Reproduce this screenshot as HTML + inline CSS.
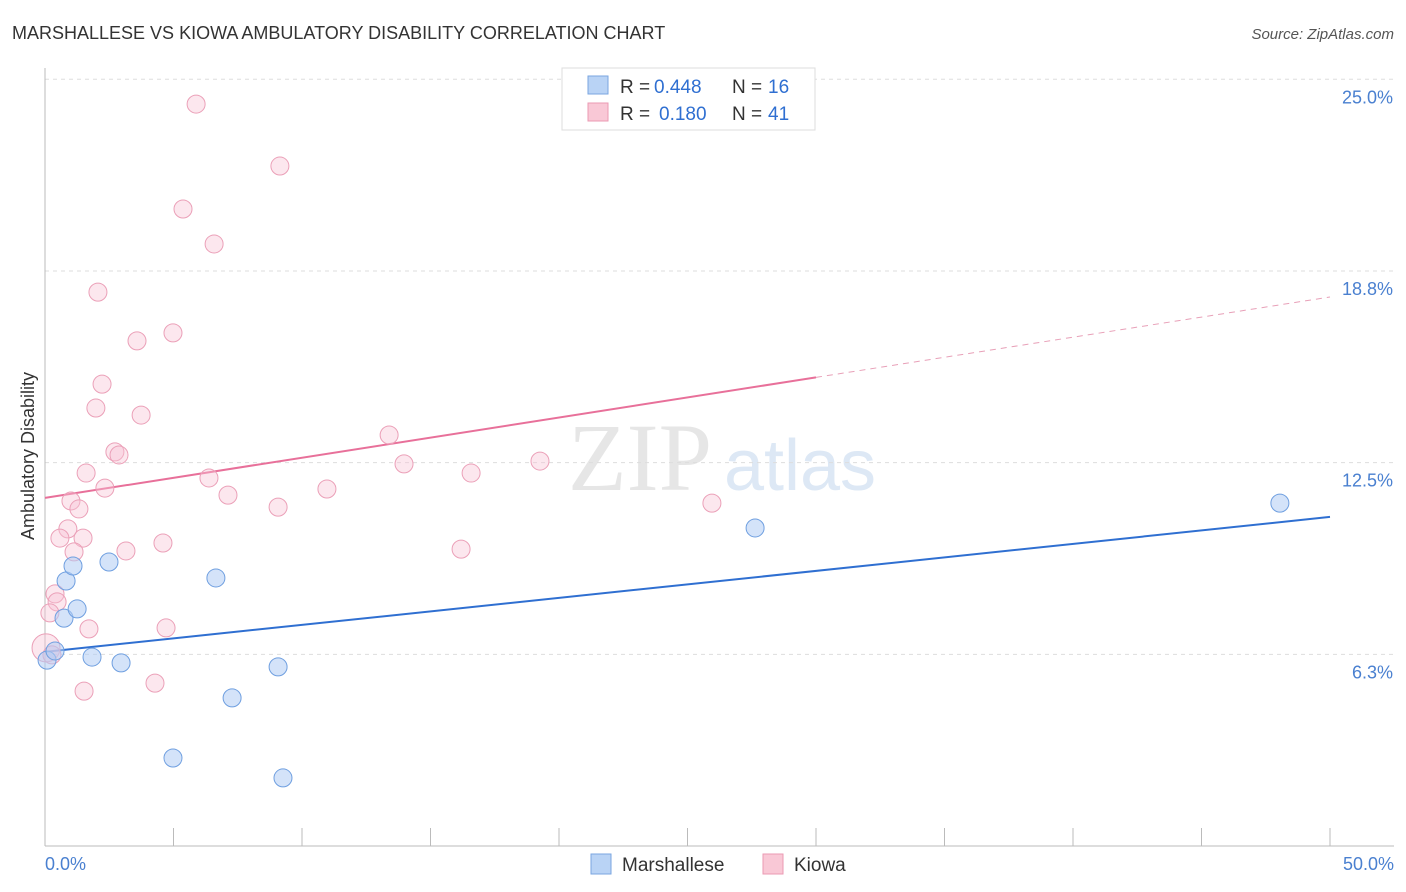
<!DOCTYPE html>
<html><head><meta charset="utf-8"><style>
body{margin:0;background:#fff;font-family:"Liberation Sans",sans-serif}
svg{display:block}
</style></head><body>
<svg id="c" width="1406" height="892" viewBox="0 0 1406 892">
<text x="12" y="39" font-size="18" fill="#333">MARSHALLESE VS KIOWA AMBULATORY DISABILITY CORRELATION CHART</text>
<text x="1394" y="39" font-size="15" fill="#555" text-anchor="end" font-style="italic">Source: ZipAtlas.com</text>
<text x="640" y="490" font-size="96" fill="#e6e6e6" text-anchor="middle" font-family="Liberation Serif,serif">ZIP</text>
<text x="800" y="490" font-size="72" fill="#dde8f5" text-anchor="middle">atlas</text>
<g id="grid"></g>
<g id="axes"></g>
<g id="lines"></g>
<g id="pts"></g>
<text transform="translate(34,456) rotate(-90)" font-size="18" fill="#333" text-anchor="middle">Ambulatory Disability</text>
<text x="45" y="870" font-size="18" fill="#4a80d0">0.0%</text>
<text x="1394" y="870" font-size="18" fill="#4a80d0" text-anchor="end">50.0%</text>
<g>
<rect x="562" y="68" width="253" height="62" fill="#fff" stroke="#ddd"/>
<rect x="588" y="76" width="20" height="18" fill="#b9d3f5" stroke="#7aa6e0"/>
<rect x="588" y="103" width="20" height="18" fill="#f9c8d6" stroke="#eb9ab3"/>
<text x="620" y="93" font-size="19" fill="#333">R =</text>
<text x="654" y="93" font-size="19" fill="#2f6fd1">0.448</text>
<text x="732" y="93" font-size="19" fill="#333">N =</text>
<text x="768" y="93" font-size="19" fill="#2f6fd1">16</text>
<text x="620" y="120" font-size="19" fill="#333">R =</text>
<text x="659" y="120" font-size="19" fill="#2f6fd1">0.180</text>
<text x="732" y="120" font-size="19" fill="#333">N =</text>
<text x="768" y="120" font-size="19" fill="#2f6fd1">41</text>
</g>
<g>
<rect x="591" y="854" width="20" height="20" fill="#b9d3f5" stroke="#7aa6e0"/>
<text x="622" y="871" font-size="19" fill="#333">Marshallese</text>
<rect x="763" y="854" width="20" height="20" fill="#f9c8d6" stroke="#eb9ab3"/>
<text x="794" y="871" font-size="19" fill="#333">Kiowa</text>
</g>
</svg>
<script>
const yTicks=[6.25,12.5,18.75,25];
const yTickLabels=["6.3%","12.5%","18.8%","25.0%"];
const blueX=[0.08,0.39,0.74,0.82,1.09,1.25,1.83,2.49,2.96,4.98,6.65,7.28,9.07,9.26,27.63,48.05];
const blueY=[6.06,6.36,7.43,8.64,9.13,7.73,6.16,9.26,5.97,2.87,8.74,4.83,5.84,2.22,10.37,11.18];
const pinkX=[5.88,9.14,5.37,6.58,2.06,4.98,3.58,2.22,1.98,3.74,13.39,2.72,2.88,13.97,19.26,16.58,1.60,6.38,2.33,10.97,7.12,1.01,9.07,25.95,1.32,0.89,0.58,1.48,4.59,1.13,3.15,16.19,0.39,0.47,0.19,1.71,4.71,0.04,0.27,4.28,1.52];
const pinkY=[24.19,22.17,20.77,19.63,18.06,16.73,16.47,15.06,14.28,14.05,13.40,12.85,12.75,12.46,12.55,12.16,12.16,12.00,11.67,11.64,11.44,11.25,11.05,11.18,10.99,10.34,10.04,10.04,9.88,9.59,9.62,9.68,8.22,7.96,7.60,7.08,7.11,6.46,6.23,5.31,5.05];
const blueTrend=[6.33,10.73];
const pinkTrend=[11.35,17.9];
const X=v=>45+v*25.7, Y=v=>846-v*30.67;
const NS="http://www.w3.org/2000/svg";
function mk(t,a,p){const e=document.createElementNS(NS,t);for(const k in a)e.setAttribute(k,a[k]);p.appendChild(e);return e;}
const grid=document.getElementById('grid'),axes=document.getElementById('axes'),lines=document.getElementById('lines'),pts=document.getElementById('pts');
yTicks.forEach((v,i)=>{
 const l=mk('line',{x1:45,x2:1394,y1:Y(v),y2:Y(v),stroke:'#ddd','stroke-dasharray':'4,4'},grid);
 
 
 const t=mk('text',{x:1393,y:Y(v)+24,'font-size':18,fill:'#4a80d0','text-anchor':'end'},grid);
 t.textContent=yTickLabels[i];
 
 
});
const ya=mk('line',{x1:45,x2:45,y1:68,y2:846,stroke:'#bbb'},axes);


const xa=mk('line',{x1:45,x2:1394,y1:846,y2:846,stroke:'#bbb'},axes);


for(let k=0;k<=10;k++){
 const t=mk('line',{x1:X(k*5),x2:X(k*5),y1:828,y2:846,stroke:'#bbb'},axes);
 
 
}
const bl=mk('line',{x1:X(0),y1:Y(blueTrend[0]),x2:X(50),y2:Y(blueTrend[1]),stroke:'#2f6fd1','stroke-width':2},lines);


const pm=pinkTrend[0]+(pinkTrend[1]-pinkTrend[0])*0.6;
const pl=mk('line',{x1:X(0),y1:Y(pinkTrend[0]),x2:X(30),y2:Y(pm),stroke:'#e8709a','stroke-width':2},lines);


const pd=mk('line',{x1:X(30),y1:Y(pm),x2:X(50),y2:Y(pinkTrend[1]),stroke:'#e8a0b8','stroke-width':1,'stroke-dasharray':'6,5'},lines);


pinkX.forEach((x,i)=>{
 const c=mk('circle',{cx:X(x),cy:Y(pinkY[i]),r:i==37?14:9,fill:'rgba(248,196,212,0.4)',stroke:'#eba0b8','stroke-width':1},pts);
 
 
});
blueX.forEach((x,i)=>{
 const c=mk('circle',{cx:X(x),cy:Y(blueY[i]),r:9,fill:'rgba(176,204,244,0.55)',stroke:'#6f9fe0','stroke-width':1},pts);
 
 
});
</script>
</body></html>
